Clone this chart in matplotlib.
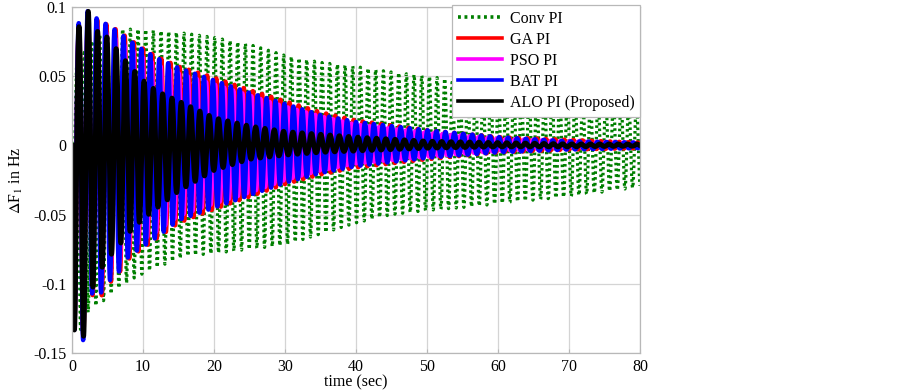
import numpy as np
import matplotlib

matplotlib.use("Agg")
import matplotlib.pyplot as plt

plt.rcParams["font.family"] = ["Liberation Serif", "DejaVu Serif"]
plt.rcParams["mathtext.fontset"] = "stix"
plt.rcParams["axes.unicode_minus"] = False

# Envelope of the oscillations (time in sec, deviation in Hz).
# Upper = height of the positive peaks, lower = depth of the negative troughs.
T_KNOTS = [0, 0.3, 0.9, 1.5, 2.2, 2.8, 3.4, 4.0, 5.0, 6.5, 8.0, 10, 12, 15, 20, 25, 30, 35, 40, 50, 60, 70, 80]

ALO_UPPER = [0.085, 0.085, 0.085, 0.090, 0.098, 0.090, 0.083, 0.081, 0.078, 0.068, 0.058, 0.047, 0.039,
             0.032, 0.020, 0.014, 0.010, 0.008, 0.006, 0.003, 0.002, 0.001, 0.001]
ALO_LOWER = [0.133, 0.133, 0.140, 0.142, 0.120, 0.104, 0.097, 0.090, 0.082, 0.073, 0.063, 0.053, 0.045,
             0.033, 0.018, 0.010, 0.007, 0.005, 0.004, 0.002, 0.001, 0.001, 0.0005]

BAT_UPPER = [0.088, 0.088, 0.088, 0.092, 0.097, 0.094, 0.092, 0.090, 0.087, 0.082, 0.076, 0.069, 0.063,
             0.056, 0.047, 0.038, 0.030, 0.022, 0.017, 0.011, 0.006, 0.003, 0.002]
BAT_LOWER = [0.133, 0.133, 0.140, 0.143, 0.120, 0.107, 0.107, 0.107, 0.099, 0.092, 0.080, 0.073, 0.066,
             0.054, 0.045, 0.036, 0.027, 0.020, 0.015, 0.009, 0.005, 0.003, 0.002]

GA_UPPER = [0.086, 0.086, 0.086, 0.090, 0.095, 0.093, 0.091, 0.090, 0.087, 0.083, 0.077, 0.070, 0.064,
            0.057, 0.049, 0.040, 0.032, 0.024, 0.018, 0.011, 0.006, 0.004, 0.002]
GA_LOWER = [0.130, 0.130, 0.137, 0.140, 0.120, 0.108, 0.109, 0.110, 0.101, 0.093, 0.082, 0.074, 0.067,
            0.056, 0.046, 0.037, 0.028, 0.021, 0.016, 0.010, 0.005, 0.003, 0.002]

PSO_UPPER = [0.084, 0.084, 0.084, 0.087, 0.092, 0.088, 0.086, 0.084, 0.081, 0.076, 0.070, 0.064, 0.058,
             0.052, 0.044, 0.036, 0.028, 0.021, 0.015, 0.009, 0.005, 0.003, 0.002]
PSO_LOWER = [0.128, 0.128, 0.135, 0.138, 0.115, 0.102, 0.101, 0.100, 0.093, 0.086, 0.075, 0.068, 0.062,
             0.051, 0.042, 0.034, 0.025, 0.018, 0.013, 0.008, 0.004, 0.002, 0.001]

CONV_KNOTS = [0, 0.6, 1.2, 2.2, 3.3, 4.5, 6, 9, 12, 16, 20, 25, 30, 35, 40, 45, 50, 57, 60, 70, 80]
CONV_UPPER = [0, 0.056, 0.065, 0.072, 0.078, 0.082, 0.084, 0.084, 0.083, 0.081, 0.078, 0.073, 0.065,
              0.060, 0.057, 0.053, 0.050, 0.045, 0.043, 0.036, 0.029]
CONV_LOWER = [0, 0.100, 0.133, 0.121, 0.116, 0.112, 0.105, 0.095, 0.088, 0.080, 0.078, 0.075, 0.072,
              0.064, 0.056, 0.050, 0.047, 0.044, 0.042, 0.037, 0.030]

# oscillation period of each response (sec), counted from the peaks
PERIODS = {"Conv PI": 1.08, "GA PI": 1.29, "PSO PI": 1.28, "BAT PI": 1.26, "ALO PI (Proposed)": 1.31}

X_TICKS = [0, 10, 20, 30, 40, 50, 60, 70, 80]
Y_TICKS = [-0.15, -0.1, -0.05, 0, 0.05, 0.1]
Y_TICK_LABELS = ["-0.15", "-0.1", "-0.05", "0", "0.05", "0.1"]

t = np.linspace(0, 80, 20001)


def response(knots, upper, lower, period, phase=0.0, sign=-1.0):
    carrier = sign * np.sin(2 * np.pi * t / period + phase)
    up = np.interp(t, knots, upper)
    lo = np.interp(t, knots, lower)
    return carrier * np.where(carrier > 0, up, lo)


series = [
    ("Conv PI", response(CONV_KNOTS, CONV_UPPER, CONV_LOWER, PERIODS["Conv PI"], phase=-2.269, sign=1.0),
     dict(color="#007f00", lw=2.3, dashes=(0.8, 1.0), dash_capstyle="butt")),
    ("GA PI", response(T_KNOTS, GA_UPPER, GA_LOWER, PERIODS["GA PI"]),
     dict(color="#ff0000", lw=3.2)),
    ("PSO PI", response(T_KNOTS, PSO_UPPER, PSO_LOWER, PERIODS["PSO PI"]),
     dict(color="#ff00ff", lw=3.2)),
    ("BAT PI", response(T_KNOTS, BAT_UPPER, BAT_LOWER, PERIODS["BAT PI"]),
     dict(color="#0000ff", lw=3.2)),
    ("ALO PI (Proposed)", response(T_KNOTS, ALO_UPPER, ALO_LOWER, PERIODS["ALO PI (Proposed)"]),
     dict(color="#000000", lw=3.6)),
]

fig = plt.figure(figsize=(9, 3.91), dpi=100)
ax = fig.add_axes([0.08, 0.0972, 0.6311, 0.8849])

for label, y, style in series:
    ax.plot(t, y, label=label, **style)

ax.set_xlim(0, 80)
ax.set_ylim(-0.15, 0.1)
ax.set_xticks(X_TICKS)
ax.set_yticks(Y_TICKS)
ax.set_yticklabels(Y_TICK_LABELS)
ax.grid(True, color="#d4d4d4", lw=0.9)
ax.set_axisbelow(True)
for sp in ax.spines.values():
    sp.set_color("#b8b8b8")
    sp.set_linewidth(0.9)
ax.tick_params(direction="in", length=3, color="#b8b8b8", labelsize=11.5, pad=4)

ax.set_xlabel("time (sec)", fontsize=11.5, labelpad=0)
ax.set_ylabel(r"$\Delta$F$_{1}$ in Hz", fontsize=11.5, labelpad=6)

leg = ax.legend(loc="upper right", bbox_to_anchor=(1.0, 1.006), borderaxespad=0, fontsize=11.5,
                frameon=True, fancybox=False, framealpha=1, edgecolor="#b8b8b8",
                handlelength=2.8, handletextpad=0.45, labelspacing=0.32, borderpad=0.35)
leg.get_frame().set_linewidth(0.9)
for line in leg.get_lines():
    line.set_linewidth(2.6)

fig.savefig("out.png", dpi=100)
